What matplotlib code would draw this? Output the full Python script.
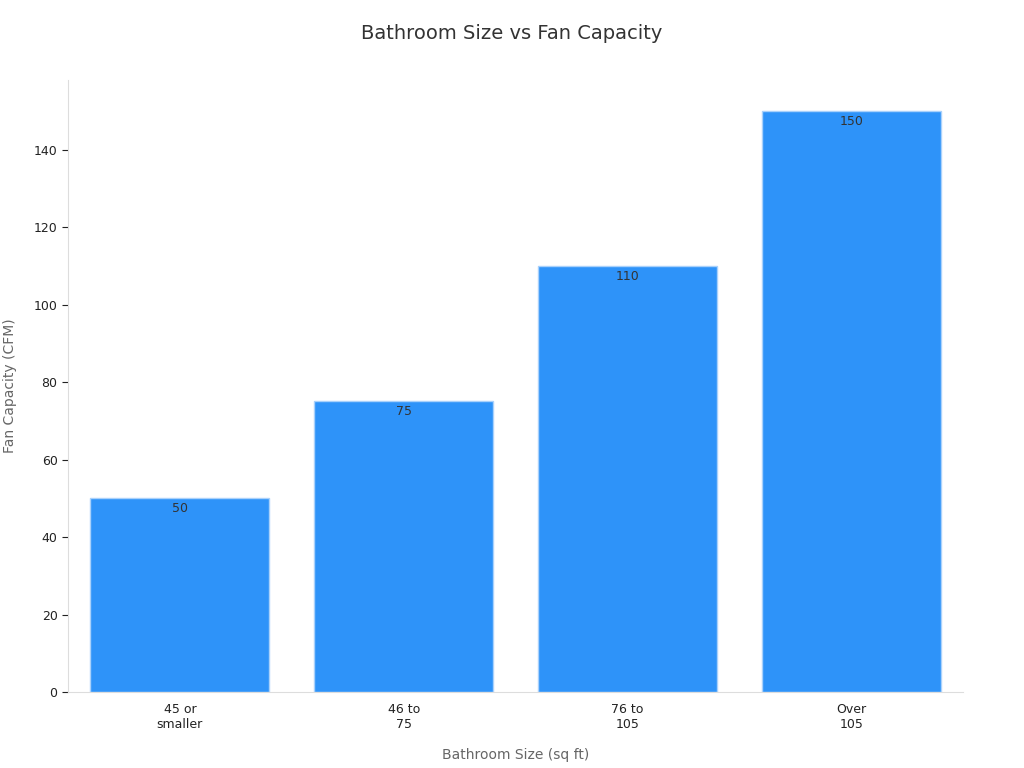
import matplotlib
matplotlib.use('Agg')
import matplotlib.pyplot as plt

categories = ['45 or\nsmaller', '46 to\n75', '76 to\n105', 'Over\n105']
fan_cfm = [50, 75, 110, 150]


def main():
    fig = plt.figure(figsize=(10.24, 7.68), dpi=100)
    ax = fig.add_axes([68 / 1024, 76 / 768, 895 / 1024, 612 / 768])

    x = list(range(len(categories)))
    bars = ax.bar(x, fan_cfm, width=0.8, color='#2E93F9', edgecolor='#A9D1FB', linewidth=1)
    for b, v in zip(bars, fan_cfm):
        ax.text(b.get_x() + b.get_width() / 2, v - 1, str(v), ha='center', va='top',
                fontsize=9, color='#333333')

    ax.set_xlim(-0.5, 3.5)
    ax.set_ylim(0, 158)
    ax.set_xticks(x)
    ax.set_xticklabels(categories, fontsize=9, color='#222222')
    ax.set_yticks(range(0, 141, 20))
    ax.tick_params(axis='y', labelsize=9, colors='#222222', length=4)
    ax.tick_params(axis='x', length=0, pad=8)
    for t in ax.get_yticklines():
        t.set_color('#999999')

    for s in ['top', 'right']:
        ax.spines[s].set_visible(False)
    for s in ['left', 'bottom']:
        ax.spines[s].set_color('#DDDDDD')

    ax.set_xlabel('Bathroom Size (sq ft)', fontsize=10, color='#666666', labelpad=12)
    ax.set_ylabel('Fan Capacity (CFM)', fontsize=10, color='#666666', labelpad=12)
    fig.text(0.5, 0.957, 'Bathroom Size vs Fan Capacity', ha='center', va='center',
             fontsize=14, color='#333333')

    fig.savefig('out.png', dpi=100)


if __name__ == '__main__':
    main()
